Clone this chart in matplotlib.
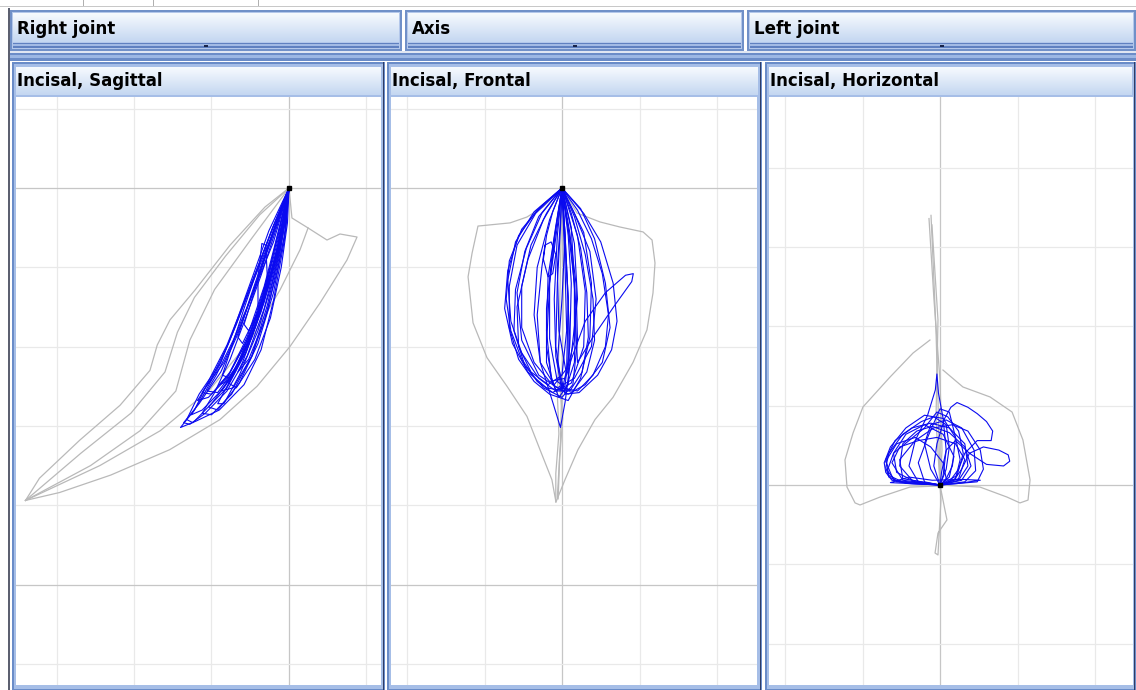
import numpy as np
import matplotlib
matplotlib.use("Agg")
import matplotlib.pyplot as plt
from matplotlib.patches import Rectangle
from matplotlib.colors import LinearSegmentedColormap

# ---- texts ----
header_labels = ["Right joint", "Axis", "Left joint"]
panel_titles = ["Incisal, Sagittal", "Incisal, Frontal", "Incisal, Horizontal"]

# reference point (mm)
origin = (0.0, 0.0)

# ---- Incisal, Sagittal (mm) ----
sag_gray = [
    [(0, 0), (-1.55, -1.2), (-3.8, -3.6), (-6.06, -6.43), (-7.68, -8.32), (-8.5, -9.9), (-8.97, -11.5),
     (-10.9, -13.7), (-13.5, -15.9), (-16.1, -18.3), (-17.0, -19.7)],
    [(0, 0), (-1.9, -1.7), (-4.1, -4.3), (-6.1, -6.9), (-7.2, -9.1), (-8.0, -11.6), (-10.2, -14.2),
     (-13.4, -16.7), (-17.0, -19.7)],
    [(0, 0), (-2.5, -3.3), (-4.8, -6.4), (-6.4, -9.6), (-7.3, -12.8), (-9.6, -15.3), (-12.8, -17.5), (-17.0, -19.7)],
    [(-17.0, -19.7), (-14.8, -19.2), (-11.5, -18.1), (-7.7, -16.5), (-4.45, -14.6), (-2.06, -12.5), (0.06, -10.0),
     (2.0, -7.25), (3.74, -4.54), (4.39, -3.09), (3.29, -2.9), (2.45, -3.28), (1.23, -2.52), (0.19, -1.89), (0, 0)],
    [(1.23, -2.52), (0.71, -3.9), (-0.58, -6.43), (-2.5, -9.6), (-5.1, -12.7), (-8.3, -15.3), (-12.2, -17.5),
     (-17.0, -19.7)],
]
sag_blue = [
    [(0, 0), (-1.1, -2.6), (-2.1, -5.2), (-3.1, -7.7), (-4.0, -9.9), (-5.0, -11.8), (-6.1, -14.0), (-7.0, -15.1),
     (-6.0, -14.7), (-4.5, -14.0), (-2.9, -12.4), (-1.8, -10.2), (-1.0, -7.1), (-0.3, -3.3), (0, 0)],
    [(0, 0), (-0.9, -2.8), (-1.8, -5.5), (-2.8, -8.2), (-3.8, -10.8), (-4.8, -12.9), (-5.6, -14.2), (-5.0, -14.3),
     (-3.7, -13.0), (-2.4, -10.6), (-1.4, -7.8), (-0.6, -4.2), (0, 0)],
    [(0, 0), (-1.0, -2.4), (-2.0, -5.0), (-2.9, -7.6), (-3.7, -10.0), (-4.3, -11.8), (-3.8, -12.0), (-2.8, -10.4),
     (-1.8, -7.8), (-0.9, -4.5), (0, 0)],
    [(0, 0), (-0.7, -3.0), (-1.5, -6.0), (-2.4, -8.8), (-3.5, -11.6), (-4.6, -13.6), (-4.2, -13.6), (-3.2, -11.8),
     (-2.0, -9.0), (-1.1, -6.0), (-0.4, -3.0), (0, 0)],
    [(0, 0), (-0.8, -3.2), (-1.6, -6.8), (-2.0, -7.6), (-2.0, -5.6), (-1.75, -3.5), (-1.5, -3.6), (-1.4, -5.6),
     (-2.2, -8.8), (-3.4, -11.4), (-4.4, -12.8), (-3.6, -12.6), (-2.4, -10.6), (-1.4, -7.4), (-0.5, -3.6), (0, 0)],
    [(0, 0), (-1.2, -2.9), (-2.3, -5.7), (-3.4, -8.6), (-4.5, -11.2), (-5.6, -13.2), (-6.3, -14.3), (-5.6, -14.0),
     (-4.2, -12.6), (-3.0, -10.6), (-2.0, -8.2), (-1.0, -5.0), (-0.2, -2.0), (0, 0)],
    [(0, 0), (-0.5, -2.6), (-1.2, -5.6), (-2.1, -8.6), (-3.0, -11.0), (-3.3, -11.6), (-2.6, -10.8), (-1.6, -8.4),
     (-0.8, -5.4), (-0.2, -2.6), (0, 0)],
    [(0, 0), (-1.0, -3.4), (-2.4, -6.8), (-3.6, -9.6), (-4.7, -11.8), (-5.3, -12.8), (-4.6, -12.9), (-3.5, -11.4),
     (-2.3, -9.0), (-1.3, -6.2), (-0.4, -3.0), (0, 0)],
    [(0, 0), (-0.8, -2.2), (-1.7, -4.6), (-2.6, -7.2), (-3.3, -9.4), (-3.0, -9.8), (-2.1, -8.0), (-1.2, -5.4),
     (-0.4, -2.6), (0, 0)],
    [(0, 0), (-0.6, -3.6), (-1.6, -7.2), (-2.8, -10.4), (-4.0, -12.6), (-5.2, -13.8), (-4.6, -14.0), (-3.2, -12.3),
     (-2.0, -9.8), (-1.0, -6.6), (-0.3, -3.0), (0, 0)],
    [(0, 0), (-1.3, -2.7), (-2.5, -6.0), (-3.6, -9.0), (-4.4, -11.0), (-5.8, -13.0), (-6.6, -14.6), (-6.2, -14.8),
     (-5.0, -13.6), (-3.6, -11.8), (-2.4, -9.4), (-1.5, -6.6), (-0.6, -3.4), (0, 0)],
    [(0, 0), (-0.4, -2.0), (-1.0, -4.4), (-1.9, -7.6), (-2.9, -10.3), (-3.9, -12.3), (-3.4, -12.6), (-2.2, -10.8),
     (-1.2, -8.2), (-0.5, -5.0), (-0.1, -2.2), (0, 0)],
    [(0, 0), (-0.9, -2.4), (-1.9, -5.4), (-3.0, -8.4), (-4.2, -11.0), (-5.4, -12.6), (-5.9, -13.4), (-5.2, -13.2),
     (-4.0, -12.0), (-2.8, -9.8), (-1.7, -7.2), (-0.8, -4.2), (-0.2, -1.6), (0, 0)],
    [(0, 0), (-0.7, -2.8), (-1.6, -6.2), (-2.7, -9.4), (-3.9, -11.8), (-4.5, -12.4), (-4.0, -12.2), (-2.9, -10.4),
     (-1.9, -7.8), (-1.0, -4.8), (-0.3, -2.0), (0, 0)],
    [(0, 0), (-1.1, -3.0), (-2.2, -6.2), (-3.3, -9.2), (-4.4, -11.6), (-5.8, -13.6), (-6.8, -14.8), (-6.4, -14.9),
     (-5.4, -14.2), (-4.0, -12.8), (-2.7, -10.6), (-1.6, -7.6), (-0.7, -4.2), (0, 0)],
    [(0, 0), (-0.6, -1.8), (-1.4, -4.0), (-2.2, -6.4), (-2.9, -8.6), (-2.6, -9.0), (-1.8, -7.4), (-1.0, -5.0),
     (-0.3, -2.4), (0, 0)],
    [(0, 0), (-1.2, -3.2), (-2.6, -6.6), (-3.9, -9.8), (-5.0, -12.0), (-5.6, -12.9), (-5.0, -13.0), (-3.8, -11.6),
     (-2.6, -9.4), (-1.6, -6.8), (-0.8, -4.0), (-0.2, -1.5), (0, 0)],
]

# ---- Incisal, Frontal (mm) ----
fro_gray = [
    [(0, 0), (0.97, -1.58), (2.45, -2.14), (3.74, -2.46), (5.23, -2.77), (5.81, -3.28), (6.0, -4.73), (5.87, -6.62),
     (5.48, -8.95), (4.58, -11.0), (3.29, -13.2), (2.13, -14.6), (1.03, -16.5), (0.19, -18.4), (-0.39, -19.8),
     (-0.65, -18.4), (-1.42, -16.5), (-2.26, -14.4), (-3.55, -12.5), (-4.84, -10.7), (-5.74, -8.5), (-6.06, -5.6),
     (-5.8, -4.1), (-5.42, -2.4), (-3.35, -2.2), (-2.26, -1.83), (-1.23, -1.2), (0, 0)],
    [(0, 0), (-0.1, -5.0), (-0.2, -10.0), (-0.3, -13.0), (-0.2, -15.5), (-0.4, -18.0), (-0.4, -19.8)],
    [(0, 0), (0.1, -6.0), (0.0, -12.0), (-0.1, -16.0), (-0.3, -19.5)],
    [(-0.2, -12.0), (0.05, -14.5), (-0.15, -17.0), (-0.25, -19.6)],
]
fro_blue = [
    [(0, 0), (-1.4, -1.2), (-2.6, -2.6), (-3.4, -4.6), (-3.6, -7.0), (-3.3, -9.0), (-2.6, -10.8), (-1.6, -12.2),
     (-0.6, -12.9), (0.2, -12.4), (0.5, -10.0), (0.6, -6.0), (0.4, -3.0), (0, 0)],
    [(0, 0), (-1.8, -1.5), (-3.0, -3.4), (-3.5, -5.8), (-3.3, -8.4), (-2.6, -10.4), (-1.5, -12.0), (-0.4, -12.8),
     (0.6, -12.3), (1.4, -10.0), (1.5, -6.5), (1.0, -3.0), (0, 0)],
    [(0, 0), (-1.0, -1.6), (-2.0, -3.6), (-2.6, -6.2), (-2.6, -8.8), (-1.8, -11.0), (-0.8, -12.2), (0.2, -12.0),
     (0.8, -9.6), (0.8, -6.0), (0.4, -2.6), (0, 0)],
    [(0, 0), (1.0, -1.4), (1.9, -3.2), (2.6, -5.4), (3.0, -8.0), (2.8, -10.0), (2.0, -11.8), (1.0, -12.8),
     (0.0, -12.6), (-0.4, -10.0), (-0.3, -6.0), (-0.1, -2.5), (0, 0)],
    [(0, 0), (1.4, -1.6), (2.5, -3.4), (3.3, -6.0), (3.55, -8.4), (3.2, -10.2), (2.3, -11.8), (1.1, -12.9),
     (0.2, -13.0), (-0.3, -11.0), (0.0, -7.0), (0.2, -3.0), (0, 0)],
    [(0, 0), (-0.8, -2.0), (-1.6, -5.0), (-1.8, -8.0), (-1.4, -11.0), (-0.6, -13.5), (-0.1, -15.1), (0.2, -13.5),
     (0.6, -10.5), (1.0, -7.0), (0.8, -3.5), (0, 0)],
    [(0, 0), (0.6, -2.5), (0.8, -6.0), (0.9, -9.0), (1.0, -11.0), (2.0, -9.4), (3.4, -7.4), (4.5, -5.9),
     (4.6, -5.4), (4.1, -5.5), (2.8, -6.6), (1.5, -8.4), (0.6, -10.8), (0.3, -11.8), (-0.2, -9.0), (-0.3, -5.0),
     (-0.1, -2.0), (0, 0)],
    [(0, 0), (-0.6, -1.5), (-1.0, -3.0), (-1.2, -4.5), (-0.9, -5.6), (-0.6, -5.4), (-0.4, -4.2), (-0.7, -3.4),
     (-1.1, -3.6), (-1.3, -5.0), (-1.6, -8.0), (-1.4, -11.0), (-0.5, -12.4), (0.3, -11.4), (0.4, -7.0),
     (0.2, -3.0), (0, 0)],
    [(0, 0), (-1.2, -2.0), (-2.2, -4.5), (-2.9, -7.5), (-2.8, -10.0), (-2.0, -11.6), (-0.9, -12.4), (0.0, -11.8),
     (0.3, -9.0), (0.2, -5.0), (0, 0)],
    [(0, 0), (0.6, -1.6), (1.2, -3.8), (1.6, -6.6), (1.7, -9.4), (1.3, -11.6), (0.5, -12.8), (-0.3, -12.2),
     (-0.8, -9.5), (-0.8, -6.0), (-0.4, -2.6), (0, 0)],
    [(0, 0), (-1.5, -1.8), (-2.4, -4.0), (-2.9, -6.6), (-2.6, -9.6), (-1.5, -11.8), (-0.3, -12.6), (0.8, -12.0),
     (1.9, -10.0), (2.2, -7.0), (1.8, -4.0), (0.8, -1.6), (0, 0)],
    [(0, 0), (-0.4, -2.4), (-0.9, -5.6), (-1.0, -9.0), (-0.7, -12.0), (-0.2, -13.2), (0.4, -12.4), (0.5, -9.4),
     (0.3, -5.4), (0.1, -2.0), (0, 0)],
    [(0, 0), (-1.6, -1.4), (-2.8, -3.0), (-3.5, -5.2), (-3.7, -7.6), (-3.2, -9.8), (-2.2, -11.6), (-1.0, -12.6),
     (0.2, -12.8), (0.8, -11.0), (0.9, -7.5), (0.6, -3.8), (0, 0)],
    [(0, 0), (-1.3, -1.6), (-2.3, -3.8), (-3.0, -6.4), (-3.1, -9.0), (-2.4, -11.2), (-1.2, -12.6), (0.0, -13.2),
     (0.7, -12.4), (1.0, -9.6), (0.9, -6.0), (0.5, -2.8), (0, 0)],
    [(0, 0), (0.8, -1.8), (1.5, -4.2), (2.0, -7.0), (2.1, -9.6), (1.6, -11.6), (0.7, -12.8), (-0.4, -12.8),
     (-1.0, -11.0), (-1.0, -7.6), (-0.6, -3.8), (0, 0)],
    [(0, 0), (-1.7, -1.6), (-2.9, -3.6), (-3.4, -6.2), (-3.4, -8.8), (-2.8, -10.8), (-1.8, -12.2), (-0.8, -13.0),
     (0.4, -13.4), (1.2, -12.0), (1.8, -9.4), (1.9, -6.0), (1.4, -2.8), (0, 0)],
    [(0, 0), (-0.3, -3.0), (-0.5, -7.0), (-0.4, -10.6), (0.0, -12.8), (0.4, -11.0), (0.4, -7.0), (0.2, -3.0), (0, 0)],
    [(0, 0), (1.2, -1.3), (2.1, -3.2), (2.8, -6.0), (3.1, -8.8), (2.6, -11.0), (1.5, -12.4), (0.4, -13.0),
     (-0.6, -12.4), (-1.0, -10.0), (-0.8, -6.0), (-0.3, -2.4), (0, 0)],
]

# ---- Incisal, Horizontal (mm) ----
hor_gray = [
    [(-0.58, 17.0), (-0.45, 14.2), (-0.26, 9.8), (-0.13, 5.36), (0, 0)],
    [(-0.71, 16.8), (-0.39, 11.7), (0.0, 6.6), (0.13, 2.2), (0, 0)],
    [(-0.52, 16.4), (-0.13, 10.4), (-0.26, 4.1), (0, 0)],
    [(-0.65, 9.14), (-1.74, 8.32), (-3.23, 6.8), (-4.97, 4.92), (-5.61, 3.28), (-6.13, 1.58), (-6.0, -0.13),
     (-5.48, -1.13), (-5.16, -1.26), (-3.87, -0.76), (-1.94, -0.13), (0, -0.06)],
    [(0.19, 7.25), (1.48, 6.18), (3.23, 5.55), (4.65, 4.6), (5.35, 2.84), (5.81, 0.32), (5.68, -0.95),
     (5.16, -1.13), (4.32, -0.76), (2.58, -0.13), (0, 0)],
    [(0, 0), (0.32, -1.58), (0.45, -2.2), (-0.13, -3.03), (-0.32, -4.29), (-0.13, -4.41), (-0.06, -3.15),
     (0.06, -0.95), (0, 0)],
]
hor_blue = [
    [(0, 0), (-2.0, 0.1), (-3.1, 0.3), (-3.5, 0.8), (-3.6, 1.4), (-3.2, 2.4), (-2.2, 3.6), (-1.0, 4.4), (0.2, 4.2),
     (1.0, 3.0), (1.3, 1.6), (1.0, 0.4), (0, 0)],
    [(0, 0), (-2.6, 0.2), (-3.3, 0.5), (-3.5, 1.1), (-3.3, 2.0), (-2.4, 3.2), (-1.2, 4.0), (-0.4, 4.3), (0.4, 3.8),
     (0.6, 2.4), (0.4, 1.0), (0, 0)],
    [(0, 0), (-1.4, 0.2), (-2.0, 1.2), (-1.6, 2.8), (-0.8, 4.4), (-0.3, 6.0), (-0.2, 7.0), (-0.1, 5.8), (0.2, 4.2),
     (0.4, 2.2), (0.2, 0.6), (0, 0)],
    [(0, 0), (0.9, 0.3), (1.4, 1.0), (1.9, 2.0), (2.8, 2.4), (3.8, 2.2), (4.4, 1.9), (4.5, 1.5), (4.1, 1.2),
     (3.0, 1.3), (1.9, 2.0), (1.0, 2.8), (0.4, 2.2), (0.1, 0.8), (0, 0)],
    [(0, 0), (-0.4, 1.2), (-0.2, 2.6), (0.3, 4.2), (0.7, 4.9), (1.1, 5.2), (1.8, 4.9), (2.4, 4.5), (3.0, 4.0),
     (3.4, 3.4), (3.3, 2.8), (2.4, 2.8), (1.6, 2.0), (1.2, 1.0), (0.6, 0.2), (0, 0)],
    [(0, 0), (-2.8, 0.2), (-3.4, 0.9), (-3.0, 2.0), (-2.0, 2.8), (-1.0, 3.6), (-0.2, 4.6), (0.5, 4.3), (1.2, 3.4),
     (1.5, 2.0), (1.1, 0.6), (0, 0)],
    [(0, 0), (-1.8, 0.3), (-2.6, 1.2), (-2.4, 2.6), (-1.5, 3.4), (-0.5, 3.7), (0.6, 3.3), (1.6, 2.4), (2.0, 1.2),
     (1.4, 0.3), (0, 0)],
    [(0, 0), (-3.0, 0.3), (-3.5, 1.5), (-2.8, 2.6), (-1.6, 3.0), (-0.6, 2.4), (0.2, 1.4), (0.4, 0.4), (0, 0)],
    [(0, 0), (-1.0, 0.2), (-1.4, 1.4), (-0.8, 3.0), (0.0, 4.8), (0.6, 4.6), (1.0, 3.0), (0.8, 1.2), (0.3, 0.2), (0, 0)],
    [(0, 0), (2.4, 0.2), (2.8, 1.0), (2.6, 2.2), (1.8, 3.4), (0.8, 3.8), (-0.4, 3.6), (-1.6, 2.8), (-2.6, 1.6),
     (-2.4, 0.4), (0, 0)],
    [(0, 0), (-3.2, 0.15), (-2.0, 0.5), (-0.5, 0.3), (1.5, 0.35), (2.6, 0.3), (1.2, 0.1), (0, 0)],
    [(0, 0), (-2.2, 0.1), (-3.3, 0.6), (-3.5, 1.6), (-2.9, 2.8), (-1.8, 3.6), (-0.6, 3.9), (0.6, 3.6), (1.6, 2.6),
     (1.8, 1.2), (1.2, 0.3), (0, 0)],
    [(0, 0), (-1.6, 0.2), (-2.8, 0.8), (-3.0, 2.0), (-2.2, 3.2), (-1.0, 3.8), (0.2, 3.2), (0.9, 1.8), (0.6, 0.5), (0, 0)],
    [(0, 0), (1.6, 0.2), (2.3, 0.9), (2.2, 2.2), (1.4, 3.6), (0.4, 4.1), (-0.6, 3.8), (-1.0, 2.6), (-0.6, 1.0), (0, 0)],
    [(0, 0), (-2.4, 0.3), (-3.1, 1.4), (-2.6, 2.4), (-1.4, 2.8), (-0.2, 3.0), (1.0, 2.6), (1.6, 1.6), (1.2, 0.4), (0, 0)],
]

# ---- layout (pixels) ----
W, H = 1136, 690
SX, SY = 15.5, 15.86          # px per mm
PLOT_Y = (97, 685)
panels = [
    dict(box=(12, 385), plot=(16, 381), org=(289, 188), gray=sag_gray, blue=sag_blue),
    dict(box=(387, 762), plot=(391, 757), org=(562, 188), gray=fro_gray, blue=fro_blue),
    dict(box=(765, 1136), plot=(769, 1133), org=(940, 485), gray=hor_gray, blue=hor_blue),
]
headers = [(10, 402), (405, 744), (747, 1136)]

fig = plt.figure(figsize=(W / 100, H / 100), dpi=100)
bg = fig.add_axes([0, 0, 1, 1])
bg.axis("off")


def rect(x0, y0, x1, y1, color, z=1):
    bg.add_patch(Rectangle((x0, y0), x1 - x0, y1 - y0, facecolor=color, edgecolor="none", zorder=z))


def grad(x0, y0, x1, y1, c_top, c_bot):
    cm = LinearSegmentedColormap.from_list("g", [c_top, c_bot])
    bg.imshow(np.linspace(0, 1, 64).reshape(-1, 1), extent=(x0, x1, y1, y0), origin="upper",
              aspect="auto", cmap=cm, zorder=2, interpolation="bilinear")


# top strip
rect(0, 6, W, 7, "#c8c8c8")
for tx in [83, 153, 258]:
    rect(tx, 0, tx + 1, 6, "#b0b0b0")
rect(8, 8, 9.5, H, "#5c6070")

# header row
for (x0, x1), lab in zip(headers, header_labels):
    rect(x0, 10, x1, 51, "#7090c8")
    rect(x0 + 2, 12, x1 - 2, 49, "#b3c7ea")
    grad(x0 + 3, 13, x1 - 3, 42, "#f7fafe", "#c4d7f1")
    rect(x0 + 3, 43, x1 - 3, 48, "#5f80c0")
    rect(x0 + 3, 44, x1 - 3, 45.5, "#a2bae4")
    cx = (x0 + x1) / 2
    rect(cx - 2, 45, cx + 2, 47, "#18244a", z=3)
    bg.text(x0 + 7, 29, lab, fontsize=12, fontweight="bold", va="center", ha="left", zorder=4)

# separator band
rect(10, 51, W, 53, "#dfe6f2")
rect(10, 53, W, 61, "#6a8cc8")
rect(10, 55, W, 58, "#9bb7e4")

# lower panels
for p, title in zip(panels, panel_titles):
    x0, x1 = p["box"]
    rect(x0, 62, x1, H, "#6a8cc8")
    rect(x0 + 1.5, 63.5, x1 - 1.5, H - 1.5, "#a6bee7")
    rect(x1 - 2.5, 62, x1 - 1, H, "#2e3c66")
    grad(x0 + 4, 67, x1 - 4, 95, "#f7fafe", "#c4d7f1")
    bg.text(x0 + 5, 81, title, fontsize=12, fontweight="bold", va="center", ha="left", zorder=4)

bg.set_xlim(0, W)
bg.set_ylim(H, 0)

# plot panels
for p in panels:
    px0, px1 = p["plot"]
    py0, py1 = PLOT_Y
    ox, oy = p["org"]
    ax = fig.add_axes([px0 / W, 1 - py1 / H, (px1 - px0) / W, (py1 - py0) / H])
    ax.set_facecolor("white")
    ax.set_xticks([-25, 0, 25])
    ax.set_yticks([-25, 0, 25])
    ax.set_xticks(np.arange(-30, 31, 5), minor=True)
    ax.set_yticks(np.arange(-35, 31, 5), minor=True)
    ax.set_xlim((px0 - ox) / SX, (px1 - ox) / SX)
    ax.set_ylim((oy - py1) / SY, (oy - py0) / SY)
    ax.grid(which="minor", color="#e9e9e9", lw=0.9)
    ax.grid(which="major", color="#c6c6c6", lw=0.9)
    ax.set_axisbelow(True)
    ax.tick_params(which="both", length=0, labelbottom=False, labelleft=False)
    for s in ax.spines.values():
        s.set_visible(False)
    for c in p["gray"]:
        a = np.array(c)
        ax.plot(a[:, 0], a[:, 1], color="#b9b9b9", lw=0.9, zorder=2, solid_joinstyle="round")
    for c in p["blue"]:
        a = np.array(c)
        ax.plot(a[:, 0], a[:, 1], color="#0a0af0", lw=0.8, zorder=3, solid_joinstyle="round")
    ax.plot(origin[0], origin[1], "s", color="black", ms=3.5, zorder=5)

fig.savefig("out.png", dpi=100)
